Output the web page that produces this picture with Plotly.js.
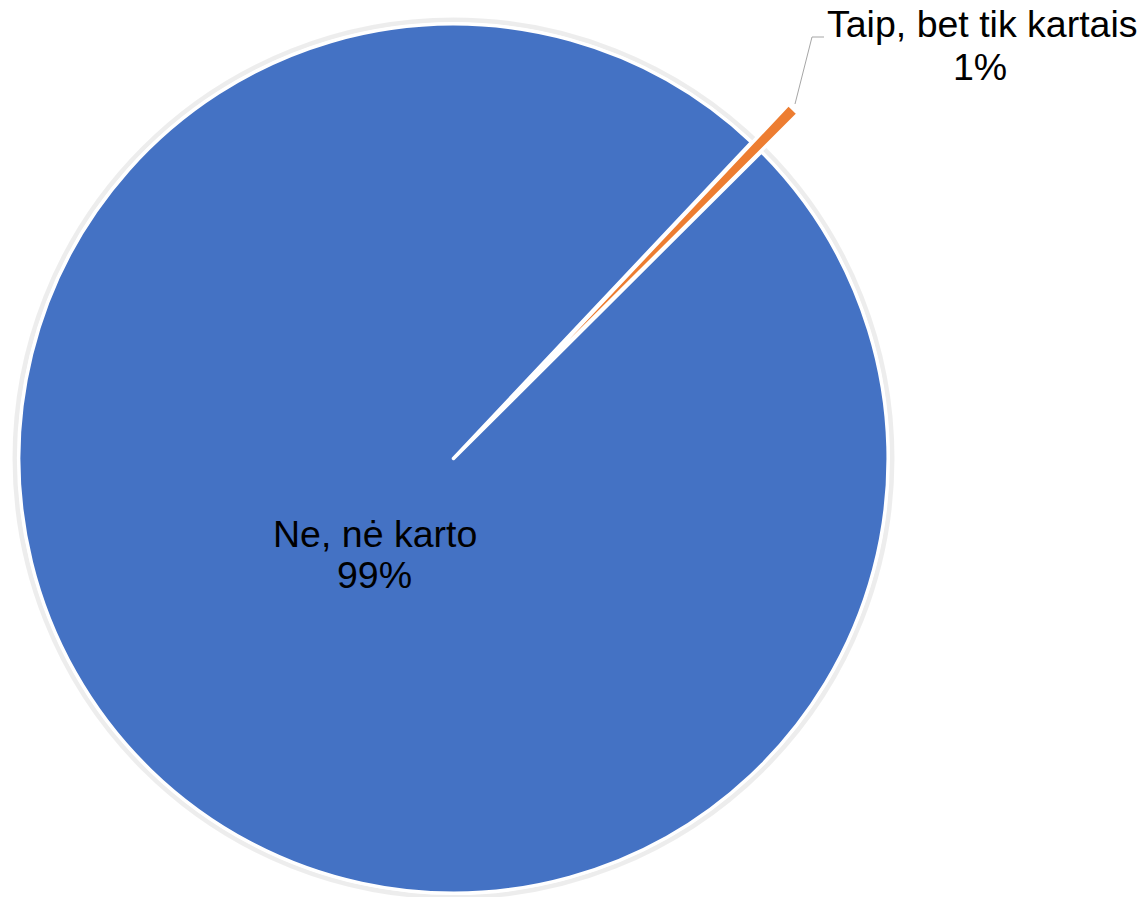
<!DOCTYPE html>
<html>
<head>
<meta charset="utf-8">
<script src="https://cdn.plot.ly/plotly-3.0.1.min.js"></script>
<style>
  html, body { margin: 0; padding: 0; overflow: hidden; width: 1146px; height: 897px; background: #ffffff; }
  #chart { position: absolute; left: -34px; top: -29px; width: 1180px; height: 1010px; }
</style>
</head>
<body>
<div id="chart"></div>
<script>
// ---- data ----
const categories = ["Ne, nė karto", "Taip, bet tik kartais"];
const shares = [99.5, 0.5];
const percentLabels = ["99%", "1%"];

// ---- styling ----
const sliceColors = ["#4472C4", "#ED7D31"];
const slicePull = [0, 0.1215];

// geometry helpers (screen px -> paper fraction of the enlarged canvas)
const OFFX = 34, OFFY = 29, W = 1180, H = 1010, BOX = 975;
const px = x => (x + OFFX) / W;
const py = y => 1 - (y + OFFY) / H;
const fontFam = "Liberation Sans, Arial, sans-serif";
const cx = 453.5, cy = 458.5, rShadow = 438.5;

const trace = {
  type: "pie",
  labels: categories,
  values: shares,
  sort: false,
  direction: "clockwise",
  rotation: 45.1,
  pull: slicePull,
  marker: { colors: sliceColors, line: { color: "#ffffff", width: 3.5 } },
  textinfo: "none",
  hoverinfo: "label+percent",
  showlegend: false,
  domain: { x: [0, BOX / W], y: [1 - BOX / H, 1] }
};

function lbl(text, x, y) {
  return { text: text, x: px(x), y: py(y), xref: "paper", yref: "paper",
           xanchor: "center", yanchor: "middle", showarrow: false,
           font: { family: fontFam, size: 37.5, color: "#000000" } };
}

const layout = {
  width: W, height: H,
  margin: { l: 0, r: 0, t: 0, b: 0 },
  paper_bgcolor: "#ffffff",
  showlegend: false,
  annotations: [
    lbl(categories[0], 375, 534),
    lbl(percentLabels[0], 375, 575),
    lbl(categories[1], 982, 24),
    lbl(percentLabels[1], 980, 67)
  ],
  shapes: [
    { type: "circle", xref: "paper", yref: "paper", layer: "below",
      x0: px(cx - rShadow), x1: px(cx + rShadow), y0: py(cy + rShadow), y1: py(cy - rShadow),
      line: { color: "rgba(0,0,0,0.07)", width: 5 } },
    { type: "path", xref: "paper", yref: "paper",
      path: `M ${px(795)},${py(104)} L ${px(812)},${py(37)} L ${px(824)},${py(37)}`,
      line: { color: "#A6A6A6", width: 1 } }
  ]
};

Plotly.newPlot("chart", [trace], layout, { displayModeBar: false, staticPlot: true });
</script>
</body>
</html>
